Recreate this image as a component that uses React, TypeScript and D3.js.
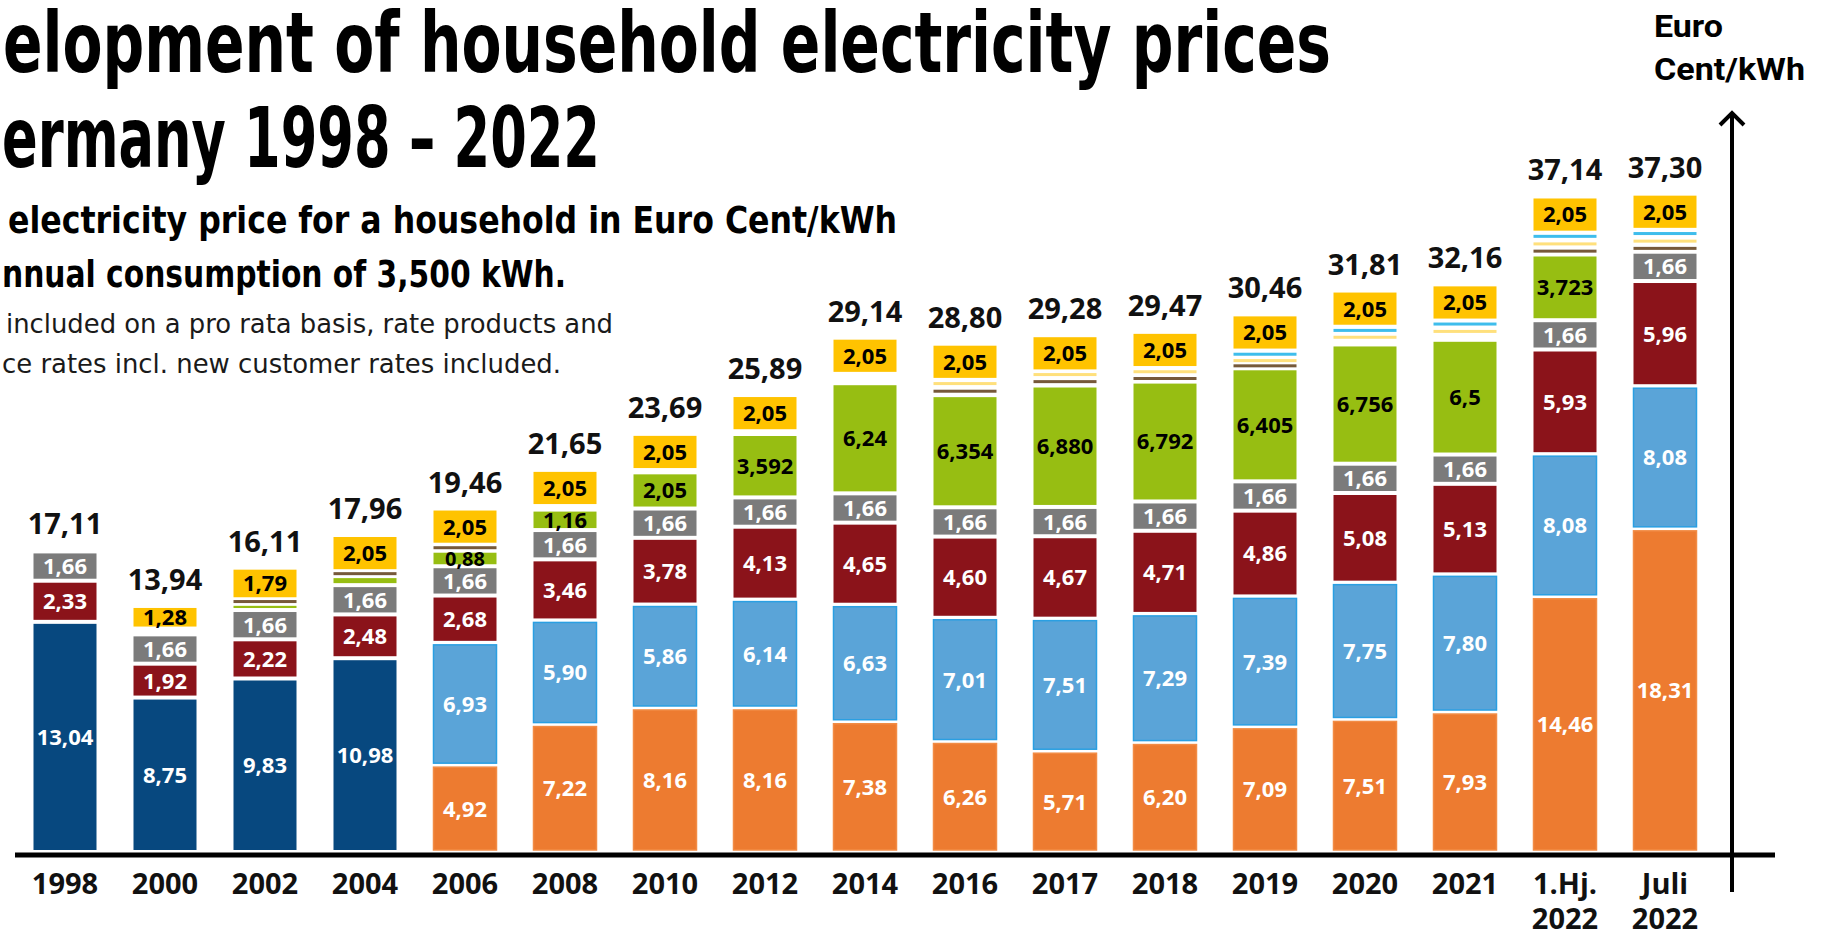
import React from 'react';
import * as d3 from 'd3';

// ---------- DATA ----------
const categories = ['1998', '2000', '2002', '2004', '2006', '2008', '2010', '2012', '2014', '2016', '2017', '2018', '2019', '2020', '2021', '1.Hj.|2022', 'Juli|2022'];
const totals = [17.11, 13.94, 16.11, 17.96, 19.46, 21.65, 23.69, 25.89, 29.14, 28.8, 29.28, 29.47, 30.46, 31.81, 32.16, 37.14, 37.3];
// generation, transport & sales (combined, until 2004)
const combinedCost = [13.04, 8.75, 9.83, 10.98, 0, 0, 0, 0, 0, 0, 0, 0, 0, 0, 0, 0, 0];
// procurement & sales
const procurement = [0, 0, 0, 0, 4.92, 7.22, 8.16, 8.16, 7.38, 6.26, 5.71, 6.2, 7.09, 7.51, 7.93, 14.46, 18.31];
// network charges
const network = [0, 0, 0, 0, 6.93, 5.9, 5.86, 6.14, 6.63, 7.01, 7.51, 7.29, 7.39, 7.75, 7.8, 8.08, 8.08];
// VAT
const vat = [2.33, 1.92, 2.22, 2.48, 2.68, 3.46, 3.78, 4.13, 4.65, 4.6, 4.67, 4.71, 4.86, 5.08, 5.13, 5.93, 5.96];
// concession fee
const concession = [1.66, 1.66, 1.66, 1.66, 1.66, 1.66, 1.66, 1.66, 1.66, 1.66, 1.66, 1.66, 1.66, 1.66, 1.66, 1.66, 1.66];
// EEG levy (as printed)
const eegLevy = ['0', '0', '0,35', '0,51', '0,88', '1,16', '2,05', '3,592', '6,24', '6,354', '6,880', '6,792', '6,405', '6,756', '6,5', '3,723', '0'];
// not shown separately
const otherLevies = [0.08, 0.33, 0, 0, 0, 0.2, 0.13, 0.158, 0.53, 0, 0, 0, 0, 0.228, 0.255, 0, 0];
// CHP levy
const chpLevy = [0, 0, 0.26, 0.28, 0.34, 0, 0, 0, 0, 0.445, 0.44, 0.35, 0.28, 0, 0, 0.38, 0.38];
// §19 levy
const sec19Levy = [0, 0, 0, 0, 0, 0, 0, 0, 0, 0.42, 0.36, 0.418, 0.31, 0.36, 0.44, 0.44, 0.44];
// offshore levy
const offshoreLevy = [0, 0, 0, 0, 0, 0, 0, 0, 0, 0, 0, 0, 0.415, 0.416, 0.395, 0.417, 0.42];
// electricity tax
const electricityTax = [0, 1.28, 1.79, 2.05, 2.05, 2.05, 2.05, 2.05, 2.05, 2.05, 2.05, 2.05, 2.05, 2.05, 2.05, 2.05, 2.05];

const parseDe = (s: string) => parseFloat(s.replace(',', '.'));
const fmtDe = (v: number) => v.toFixed(2).replace('.', ',');

type Series = {
  key: string;
  values: number[];
  labels?: string[];
  fill: string;
  stroke?: string;
  text?: string;
  kind: 'box' | 'stripe' | 'none';
};

const series: Series[] = [
  { key: 'combined', values: combinedCost, fill: '#07487f', text: '#ffffff', kind: 'box' },
  { key: 'procurement', values: procurement, fill: '#ed7b30', stroke: '#f28c45', text: '#ffffff', kind: 'box' },
  { key: 'network', values: network, fill: '#5aa4d8', stroke: '#2a9fe2', text: '#ffffff', kind: 'box' },
  { key: 'vat', values: vat, fill: '#8b131a', text: '#ffffff', kind: 'box' },
  { key: 'concession', values: concession, fill: '#7b7b7b', text: '#ffffff', kind: 'box' },
  { key: 'eeg', values: eegLevy.map(parseDe), labels: eegLevy, fill: '#97be12', text: '#000000', kind: 'box' },
  { key: 'other', values: otherLevies, fill: 'none', kind: 'none' },
  { key: 'chp', values: chpLevy, fill: '#76593a', kind: 'stripe' },
  { key: 'sec19', values: sec19Levy, fill: '#ffe07c', kind: 'stripe' },
  { key: 'offshore', values: offshoreLevy, fill: '#3ebdec', kind: 'stripe' },
  { key: 'tax', values: electricityTax, fill: '#ffc300', text: '#000000', kind: 'box' },
];

const W = 1822;
const H = 937;
const baseY = 852;

export default function App() {
  const x = d3
    .scaleBand<string>()
    .domain(categories)
    .range([15, 1715])
    .paddingInner(0.37)
    .paddingOuter(0.185);
  const y = d3.scaleLinear().domain([0, 40]).range([baseY, baseY - 40 * 17.65]);

  const rows = categories.map((c, i) => {
    const r: Record<string, any> = { cat: c };
    series.forEach((s) => (r[s.key] = s.values[i]));
    return r;
  });
  const stacked = d3.stack<Record<string, any>>().keys(series.map((s) => s.key))(rows);

  const labelFont = '"Open Sans", "DejaVu Sans", sans-serif';
  const condensed = '"Liberation Sans Narrow", "DejaVu Sans Condensed", Roboto, "Liberation Sans", sans-serif';
  const bw = x.bandwidth();

  return (
    <svg
      width={W}
      height={H}
      viewBox={`0 0 ${W} ${H}`}
      style={{ position: 'absolute', left: 0, top: 0, display: 'block', background: '#ffffff' }}
    >
      <rect x={0} y={0} width={W} height={H} fill="#ffffff" />
      {/* Titles */}
      <g fill="#000000" fontFamily={condensed} fontWeight={700}>
        <text x={3} y={72} fontSize={84} textLength={1328} lengthAdjust="spacingAndGlyphs">
          elopment of household electricity prices
        </text>
        <text x={2} y={167} fontSize={84} textLength={598} lengthAdjust="spacingAndGlyphs">
          ermany 1998 – 2022
        </text>
        <text x={8} y={233} fontSize={38} textLength={889} lengthAdjust="spacingAndGlyphs">
          electricity price for a household in Euro Cent/kWh
        </text>
        <text x={2} y={287} fontSize={38} textLength={564} lengthAdjust="spacingAndGlyphs">
          nnual consumption of 3,500 kWh.
        </text>
      </g>
      <g fill="#1a1a1a" fontFamily={condensed} fontWeight={400}>
        <text x={6} y={333} fontSize={27} textLength={607} lengthAdjust="spacingAndGlyphs">
          included on a pro rata basis, rate products and
        </text>
        <text x={2} y={373} fontSize={27} textLength={559} lengthAdjust="spacingAndGlyphs">
          ce rates incl. new customer rates included.
        </text>
      </g>
      <g fill="#000000" fontFamily={'Roboto, "Liberation Sans", sans-serif'} fontWeight={700}>
        <text x={1654} y={37} fontSize={31} textLength={69} lengthAdjust="spacingAndGlyphs">
          Euro
        </text>
        <text x={1654} y={80} fontSize={31} textLength={151} lengthAdjust="spacingAndGlyphs">
          Cent/kWh
        </text>
      </g>

      {/* Bars */}
      {stacked.map((layer, si) => {
        const s = series[si];
        if (s.kind === 'none') return null;
        return (
          <g key={s.key}>
            {layer.map((d, i) => {
              const v = s.values[i];
              if (!v) return null;
              const x0 = x(categories[i]) as number;
              const yTop = y(d[1]);
              const yBot = y(d[0]);
              if (s.kind === 'stripe') {
                const c = (yTop + yBot) / 2;
                return <rect key={i} x={x0} y={c - 1.5} width={bw} height={3} fill={s.fill} />;
              }
              const h = yBot - yTop - 4;
              if (h <= 0) return null;
              return (
                <rect
                  key={i}
                  x={x0}
                  y={yTop + 2}
                  width={bw}
                  height={h}
                  fill={s.fill}
                  stroke={s.stroke || 'none'}
                  strokeWidth={s.stroke ? 1.5 : 0}
                />
              );
            })}
            {layer.map((d, i) => {
              const v = s.values[i];
              if (!v || v < 0.8 || !s.text) return null;
              const cx = (x(categories[i]) as number) + bw / 2;
              const cy = (y(d[0]) + y(d[1])) / 2;
              const label = s.labels ? s.labels[i] : fmtDe(v);
              const small = y(d[0]) - y(d[1]) < 20;
              return (
                <text
                  key={'l' + i}
                  x={cx}
                  y={cy}
                  dy="0.36em"
                  textAnchor="middle"
                  fontFamily={labelFont}
                  fontWeight={700}
                  fontSize={small ? 20 : 22}
                  fill={s.text}
                >
                  {label}
                </text>
              );
            })}
          </g>
        );
      })}

      {/* Totals */}
      {totals.map((t, i) => (
        <text
          key={'t' + i}
          x={(x(categories[i]) as number) + bw / 2}
          y={y(t) - 16}
          textAnchor="middle"
          fontFamily={labelFont}
          fontWeight={700}
          fontSize={29}
          fill="#111111"
        >
          {fmtDe(t)}
        </text>
      ))}

      {/* X axis */}
      <line x1={15} x2={1775} y1={855} y2={855} stroke="#000000" strokeWidth={5} />
      {categories.map((c, i) => {
        const parts = c.split('|');
        const cx = (x(c) as number) + bw / 2;
        return (
          <text
            key={'x' + i}
            x={cx}
            y={894}
            textAnchor="middle"
            fontFamily={labelFont}
            fontWeight={700}
            fontSize={29}
            fill="#111111"
          >
            {parts.map((p, j) => (
              <tspan key={j} x={cx} dy={j === 0 ? 0 : 35}>
                {p}
              </tspan>
            ))}
          </text>
        );
      })}

      {/* Y axis arrow */}
      <line x1={1732} x2={1732} y1={892} y2={113} stroke="#000000" strokeWidth={4} />
      <polyline points="1720,125 1732,113 1744,125" fill="none" stroke="#000000" strokeWidth={4} />
    </svg>
  );
}
